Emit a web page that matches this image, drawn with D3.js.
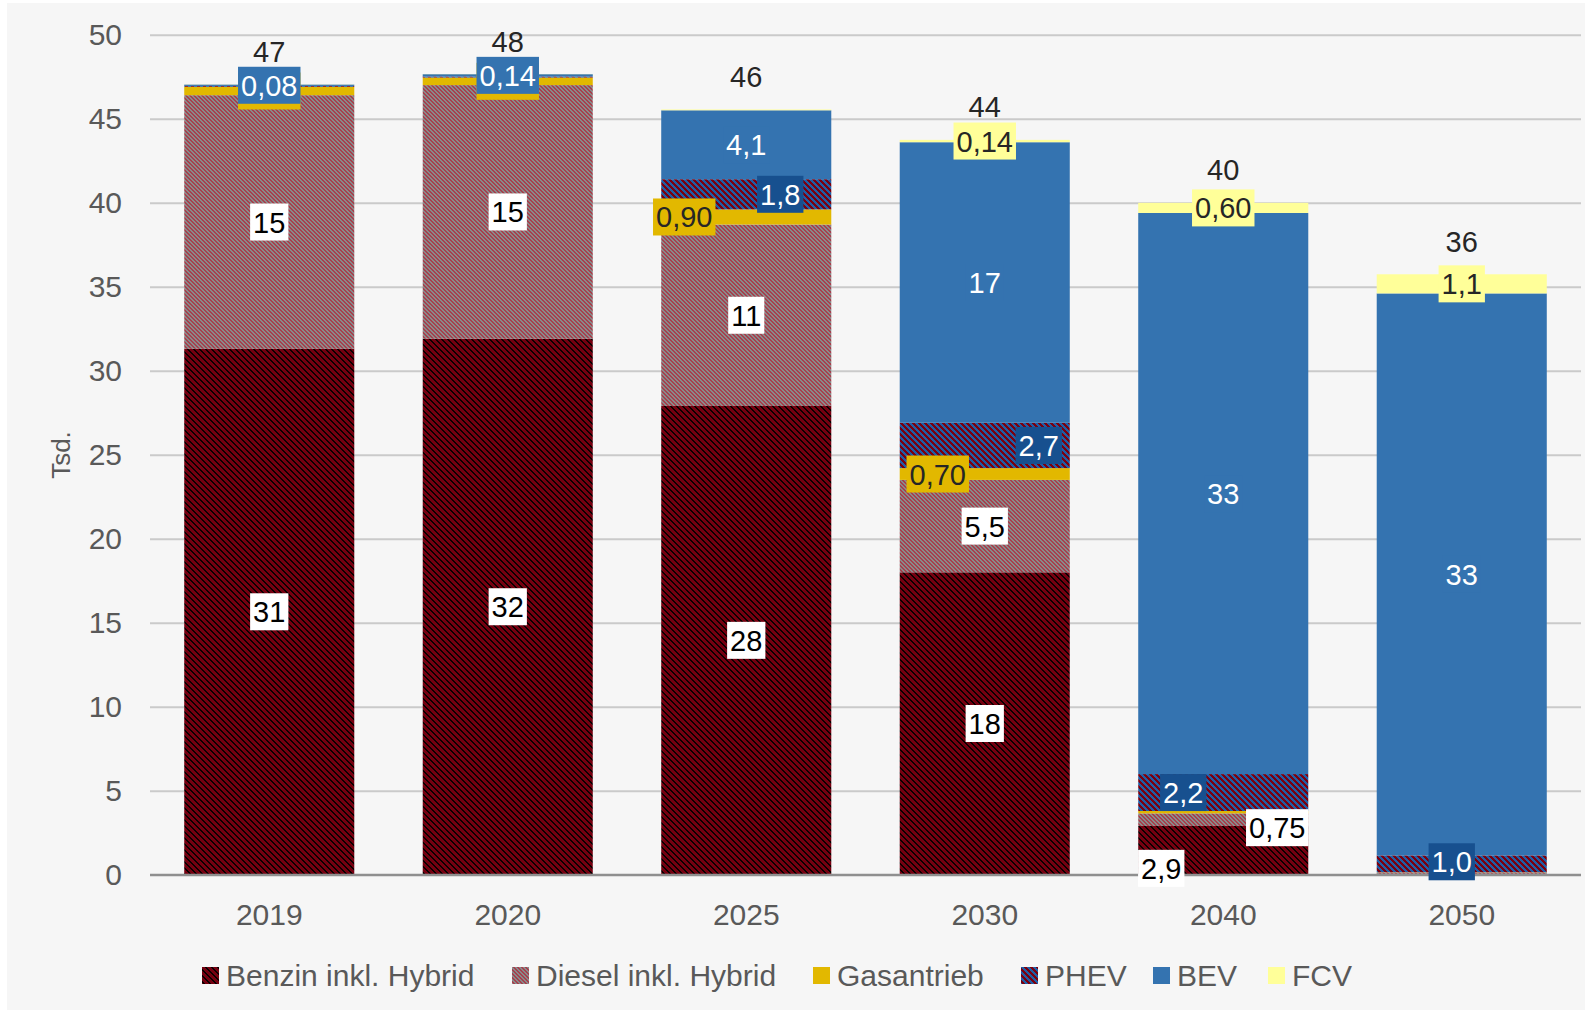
<!DOCTYPE html>
<html>
<head>
<meta charset="utf-8">
<script src="https://cdn.jsdelivr.net/npm/d3@7"></script>
<style>
  html, body { margin: 0; padding: 0; background: #ffffff; }
  svg { display: block; font-family: "Liberation Sans", Arial, sans-serif; }
</style>
</head>
<body>
<svg id="chart" width="1585" height="1010"></svg>
<script>
// Pkw-Neuzulassungen nach Antriebsart (Tsd.)
const years = ["2019", "2020", "2025", "2030", "2040", "2050"];
const seriesNames = ["Benzin inkl. Hybrid", "Diesel inkl. Hybrid", "Gasantrieb", "PHEV", "BEV", "FCV"];

const benzin = [31.3, 31.9, 27.9, 18.0, 2.9, 0.05];
const diesel = [15.1, 15.1, 10.8, 5.5, 0.75, 0.09];
const gas    = [0.5, 0.45, 0.90, 0.70, 0.14, 0.01];
const phev   = [0.05, 0.06, 1.8, 2.7, 2.2, 1.0];
const bev    = [0.08, 0.14, 4.1, 16.7, 33.4, 33.45];
const fcv    = [0.01, 0.01, 0.05, 0.14, 0.60, 1.14];

const yTicks = [0, 5, 10, 15, 20, 25, 30, 35, 40, 45, 50];

// segment labels that are not shown
const hiddenLabels = ["2019|PHEV", "2019|FCV", "2020|PHEV", "2020|FCV", "2025|FCV",
                      "2040|Gasantrieb", "2050|Benzin inkl. Hybrid", "2050|Diesel inkl. Hybrid", "2050|Gasantrieb"];
// labels whose box sits underneath a neighbouring label (only the box edge stays visible)
const coveredLabels = ["2019|Gasantrieb", "2020|Gasantrieb"];

// manual label nudges (px) where labels were moved off the segment centre
const labelNudge = {
  "2025|Gasantrieb": [-62, 0],
  "2025|PHEV": [34, 0],
  "2030|Gasantrieb": [-47, 0],
  "2030|PHEV": [54, 0],
  "2040|PHEV": [-40, 0],
  "2040|Diesel inkl. Hybrid": [54, 8],
  "2040|Benzin inkl. Hybrid": [-62, 18],
  "2050|PHEV": [-10, -2]
};

// legend swatch positions
const legendX = [202, 512, 813, 1021, 1153, 1268];

const seriesValues = [benzin, diesel, gas, phev, bev, fcv];
const rows = years.map((yr, i) => {
  const r = { year: yr };
  seriesNames.forEach((s, k) => { r[s] = seriesValues[k][i]; });
  return r;
});

const W = 1585, H = 1010;
const plotLeft = 150, plotRight = 1581, y0px = 874.7, y50px = 34.7;

const svg = d3.select("#chart");
const defs = svg.append("defs");

// pixel diagonal hatch patterns
function hatch(id, base, stripe, period, stripeW) {
  const p = defs.append("pattern")
    .attr("id", id).attr("patternUnits", "userSpaceOnUse")
    .attr("width", period).attr("height", period)
    .attr("shape-rendering", "crispEdges");
  p.append("rect").attr("width", period).attr("height", period).attr("fill", base);
  for (let r = 0; r < period; r++) {
    for (let k = 0; k < stripeW; k++) {
      p.append("rect").attr("x", (r + k) % period).attr("y", r)
        .attr("width", 1).attr("height", 1).attr("fill", stripe);
    }
  }
}
hatch("pBenzin", "#740010", "#0a0000", 6, 2);
hatch("pDiesel", "#a6404e", "#8a8a8a", 4, 2);
hatch("pPhev", "#7a0010", "#1f5ea6", 6, 3);

const bevColor = "#3473b0", gasColor = "#e2b800", fcvColor = "#ffff99";
const fills = ["url(#pBenzin)", "url(#pDiesel)", gasColor, "url(#pPhev)", bevColor, fcvColor];
const labelBox = ["#ffffff", "#ffffff", gasColor, "#17508f", bevColor, fcvColor];
const labelInk = ["#000000", "#000000", "#262626", "#ffffff", "#ffffff", "#262626"];

// background panel
svg.append("rect").attr("width", W).attr("height", H).attr("fill", "#ffffff");
svg.append("rect").attr("x", 7).attr("y", 3).attr("width", W - 7).attr("height", H - 3).attr("fill", "#f6f6f6");

const x = d3.scaleBand().domain(years).range([plotLeft, plotRight])
  .paddingInner(0.287).paddingOuter(0.1435);
const y = d3.scaleLinear().domain([0, 50]).range([y0px, y50px]);

const fmt = raw => {
  const v = +raw.toFixed(6);
  return (v < 1 ? v.toFixed(2) : v < 10 ? v.toFixed(1) : v.toFixed(0)).replace(".", ",");
};

// y axis with gridlines
const yAxis = svg.append("g").attr("transform", `translate(${plotLeft},0)`)
  .call(d3.axisLeft(y).tickValues(yTicks).tickSize(-(plotRight - plotLeft)).tickPadding(28).tickFormat(d => d));
yAxis.select(".domain").remove();
yAxis.selectAll(".tick line").attr("stroke", (d) => d === 0 ? "#8f8f8f" : "#cacaca").attr("stroke-width", 2);
yAxis.selectAll(".tick text").attr("fill", "#595959").attr("font-size", 30)
  .attr("font-family", "Liberation Sans, Arial, sans-serif");

// x axis labels
const xAxis = svg.append("g").attr("transform", `translate(0,${y0px})`)
  .call(d3.axisBottom(x).tickSize(0).tickPadding(29));
xAxis.select(".domain").remove();
xAxis.selectAll(".tick text").attr("fill", "#595959").attr("font-size", 30)
  .attr("font-family", "Liberation Sans, Arial, sans-serif");

// axis title
svg.append("text").attr("transform", "translate(70,455) rotate(-90)")
  .attr("text-anchor", "middle").attr("font-size", 26).attr("fill", "#595959").text("Tsd.");

// stacked bars
const stacked = d3.stack().keys(seriesNames)(rows);
const bars = svg.append("g");
stacked.forEach((layer, k) => {
  bars.append("g").attr("fill", fills[k])
    .selectAll("rect").data(layer).join("rect")
    .attr("x", d => x(d.data.year))
    .attr("width", x.bandwidth())
    .attr("y", d => y(d[1]))
    .attr("height", d => y(d[0]) - y(d[1]));
});
// zero line over the bars
svg.append("line").attr("x1", plotLeft).attr("x2", plotRight).attr("y1", y0px).attr("y2", y0px)
  .attr("stroke", "#8f8f8f").attr("stroke-width", 2);

// segment labels
const labels = svg.append("g").attr("font-size", 29);
stacked.forEach((layer, k) => {
  layer.forEach(d => {
    const key = d.data.year + "|" + seriesNames[k];
    if (hiddenLabels.includes(key)) return;
    const v = d[1] - d[0];
    const nudge = labelNudge[key] || [0, 0];
    const cx = x(d.data.year) + x.bandwidth() / 2 + nudge[0];
    const cy = y((d[0] + d[1]) / 2) + nudge[1];
    const g = labels.append("g");
    const box = g.append("rect").attr("fill", labelBox[k]);
    const t = g.append("text").attr("x", cx).attr("y", cy + 10.5)
      .attr("text-anchor", "middle").attr("fill", labelInk[k]).text(fmt(v));
    const w = t.node().getComputedTextLength() + 6;
    box.attr("x", cx - w / 2).attr("y", cy - 18.5).attr("width", w).attr("height", 37);
    if (coveredLabels.includes(key)) t.remove();
  });
});

// totals above bars
const totals = rows.map(r => d3.sum(seriesNames, s => r[s]));
svg.append("g").selectAll("text").data(rows).join("text")
  .attr("x", d => x(d.year) + x.bandwidth() / 2)
  .attr("y", (d, i) => y(totals[i]) - 33 + 10.5)
  .attr("text-anchor", "middle").attr("font-size", 29).attr("fill", "#262626")
  .text((d, i) => fmt(totals[i]));

// legend
const legend = svg.append("g").attr("font-size", 30).attr("fill", "#595959");
seriesNames.forEach((s, k) => {
  legend.append("rect").attr("x", legendX[k]).attr("y", 967).attr("width", 17).attr("height", 17).attr("fill", fills[k]);
  legend.append("text").attr("x", legendX[k] + 24).attr("y", 986).text(s);
});
</script>
</body>
</html>
